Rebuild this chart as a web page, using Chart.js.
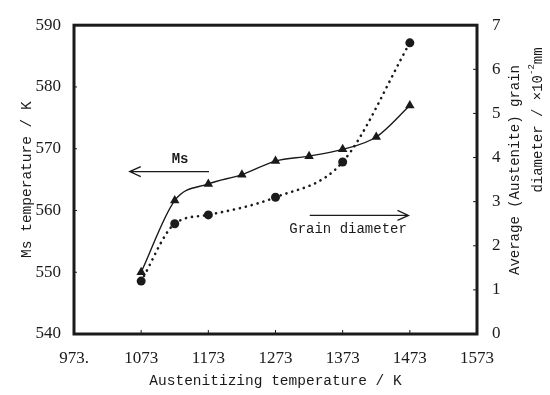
<!DOCTYPE html>
<html>
<head>
<meta charset="utf-8">
<script src="https://cdn.jsdelivr.net/npm/chart.js@4/dist/chart.umd.min.js"></script>
<style>
  html, body { margin: 0; padding: 0; background: #fff; }
  #wrap { width: 550px; height: 395px; }
</style>
</head>
<body>
<div id="wrap"><canvas id="c" width="550" height="395"></canvas></div>
<script>
// Austenitizing temperatures (K) and measured values
const msTemps = [1073, 1123, 1173, 1223, 1273, 1323, 1373, 1423, 1473];
const msValues = [550, 561.6, 564.3, 565.8, 568.0, 568.8, 569.9, 571.9, 577.0];

const grainTemps = [1073, 1123, 1173, 1273, 1373, 1473];
const grainValues = [1.2, 2.5, 2.7, 3.1, 3.9, 6.6];

// Tick labels
const xTickValues = [973, 1073, 1173, 1273, 1373, 1473, 1573];
const xTickLabels = ['973.', '1073', '1173', '1273', '1373', '1473', '1573'];
const msTickValues = [540, 550, 560, 570, 580, 590];
const grainTickValues = [0, 1, 2, 3, 4, 5, 6, 7];

const INK = '#1a1a1a';
const MONO = '"Liberation Mono", "DejaVu Sans Mono", monospace';
const SERIF = '"Liberation Serif", "DejaVu Serif", serif';

function toPoints(xs, ys) { return xs.map((x, i) => ({ x: x, y: ys[i] })); }

function drawArrow(ctx, x1, y, x2) {
  const dir = Math.sign(x2 - x1);
  ctx.beginPath();
  ctx.moveTo(x1, y);
  ctx.lineTo(x2, y);
  ctx.moveTo(x2 - dir * 11, y - 5);
  ctx.lineTo(x2, y);
  ctx.lineTo(x2 - dir * 11, y + 5);
  ctx.stroke();
}

// Frame, inward tick marks, annotations and right-hand axis title
const decorations = {
  id: 'decorations',
  beforeDatasetsDraw(chart) {
    const { ctx, chartArea: a, scales } = chart;
    ctx.save();
    ctx.strokeStyle = INK;
    ctx.lineWidth = 1;
    ctx.beginPath();
    xTickValues.forEach(v => {
      const px = scales.x.getPixelForValue(v);
      ctx.moveTo(px, a.bottom); ctx.lineTo(px, a.bottom - 4);
    });
    msTickValues.forEach(v => {
      const py = scales.y.getPixelForValue(v);
      ctx.moveTo(a.left, py); ctx.lineTo(a.left + 3, py);
    });
    grainTickValues.forEach(v => {
      const py = scales.y1.getPixelForValue(v);
      ctx.moveTo(a.right, py); ctx.lineTo(a.right - 4, py);
    });
    ctx.stroke();

    ctx.lineWidth = 3;
    ctx.strokeRect(a.left, a.top, a.right - a.left, a.bottom - a.top);
    ctx.restore();
  },
  afterDraw(chart) {
    const { ctx, chartArea: a, scales } = chart;
    const x = scales.x, y = scales.y;
    ctx.save();
    ctx.strokeStyle = INK;
    ctx.fillStyle = INK;
    ctx.lineWidth = 1.3;

    // "Ms" pointer to the left axis
    const msArrowY = y.getPixelForValue(566.3);
    drawArrow(ctx, x.getPixelForValue(1174), msArrowY, x.getPixelForValue(1056));
    ctx.font = 'bold 14px ' + MONO;
    ctx.textAlign = 'center';
    ctx.textBaseline = 'middle';
    ctx.fillText('Ms', x.getPixelForValue(1131), y.getPixelForValue(568.2));

    // "Grain diameter" pointer to the right axis
    const gArrowY = y.getPixelForValue(559.2);
    drawArrow(ctx, x.getPixelForValue(1324), gArrowY, x.getPixelForValue(1471));
    ctx.font = '14px ' + MONO;
    ctx.fillText('Grain diameter', x.getPixelForValue(1381), y.getPixelForValue(556.9));

    // Right axis title, two rotated lines reading upward
    ctx.font = '14px ' + MONO;
    ctx.translate(a.right + 38, 0);
    ctx.save();
    ctx.translate(0, 170);
    ctx.rotate(-Math.PI / 2);
    ctx.fillText('Average (Austenite) grain', 0, 0);
    ctx.restore();

    ctx.save();
    ctx.translate(23, 120);
    ctx.rotate(-Math.PI / 2);
    const p1 = 'diameter / \u00d710';
    const p2 = '-2';
    const p3 = 'mm';
    ctx.font = '14px ' + MONO;
    const w1 = ctx.measureText(p1).width;
    const w3 = ctx.measureText(p3).width;
    ctx.font = '9px ' + MONO;
    const w2 = ctx.measureText(p2).width;
    const total = w1 + w2 + w3;
    let cx = -total / 2;
    ctx.textAlign = 'left';
    ctx.font = '14px ' + MONO;
    ctx.fillText(p1, cx, 0);
    cx += w1;
    ctx.font = '9px ' + MONO;
    ctx.fillText(p2, cx, -6);
    cx += w2;
    ctx.font = '14px ' + MONO;
    ctx.fillText(p3, cx, 0);
    ctx.restore();

    ctx.restore();
  }
};

new Chart(document.getElementById('c'), {
  type: 'line',
  data: {
    datasets: [
      {
        label: 'Ms',
        data: toPoints(msTemps, msValues),
        yAxisID: 'y',
        borderColor: INK,
        backgroundColor: INK,
        borderWidth: 1.4,
        pointStyle: 'triangle',
        pointRadius: 5.5,
        pointBorderWidth: 0,
        cubicInterpolationMode: 'monotone',
        fill: false
      },
      {
        label: 'Grain diameter',
        data: toPoints(grainTemps, grainValues),
        yAxisID: 'y1',
        borderColor: INK,
        backgroundColor: INK,
        borderWidth: 2.6,
        borderDash: [0.1, 6],
        borderCapStyle: 'round',
        pointStyle: 'circle',
        pointRadius: 4.5,
        pointBorderWidth: 0,
        cubicInterpolationMode: 'monotone',
        fill: false
      }
    ]
  },
  options: {
    responsive: false,
    animation: false,
    layout: { padding: { top: 17, left: 0, right: 0, bottom: 0 } },
    plugins: { legend: { display: false }, tooltip: { enabled: false } },
    scales: {
      x: {
        type: 'linear',
        min: 973, max: 1573,
        afterFit(s) { s.height = 61; },
        afterBuildTicks(s) { s.ticks = xTickValues.map(v => ({ value: v })); },
        ticks: {
          color: INK,
          font: { family: SERIF, size: 17 },
          padding: 14,
          maxRotation: 0,
          callback(v) { const i = xTickValues.indexOf(v); return i >= 0 ? xTickLabels[i] : ''; }
        },
        grid: { display: false, drawTicks: false },
        border: { display: false },
        title: {
          display: true,
          text: 'Austenitizing temperature / K',
          color: INK,
          font: { family: MONO, size: 14.5 },
          padding: { top: 0, bottom: 5 }
        }
      },
      y: {
        position: 'left',
        min: 540, max: 590,
        afterFit(s) { s.width = 74; },
        afterBuildTicks(s) { s.ticks = msTickValues.map(v => ({ value: v })); },
        ticks: { color: INK, font: { family: SERIF, size: 17 }, padding: 13 },
        grid: { display: false, drawTicks: false },
        border: { display: false },
        title: {
          display: true,
          text: 'Ms temperature / K',
          color: INK,
          font: { family: MONO, size: 14.5 },
          padding: { top: 18, bottom: 0 }
        }
      },
      y1: {
        position: 'right',
        min: 0, max: 7,
        afterFit(s) { s.width = 73; },
        afterBuildTicks(s) { s.ticks = grainTickValues.map(v => ({ value: v })); },
        ticks: { color: INK, font: { family: SERIF, size: 17 }, padding: 15 },
        grid: { display: false, drawTicks: false },
        border: { display: false }
      }
    }
  },
  plugins: [decorations]
});
</script>
</body>
</html>
